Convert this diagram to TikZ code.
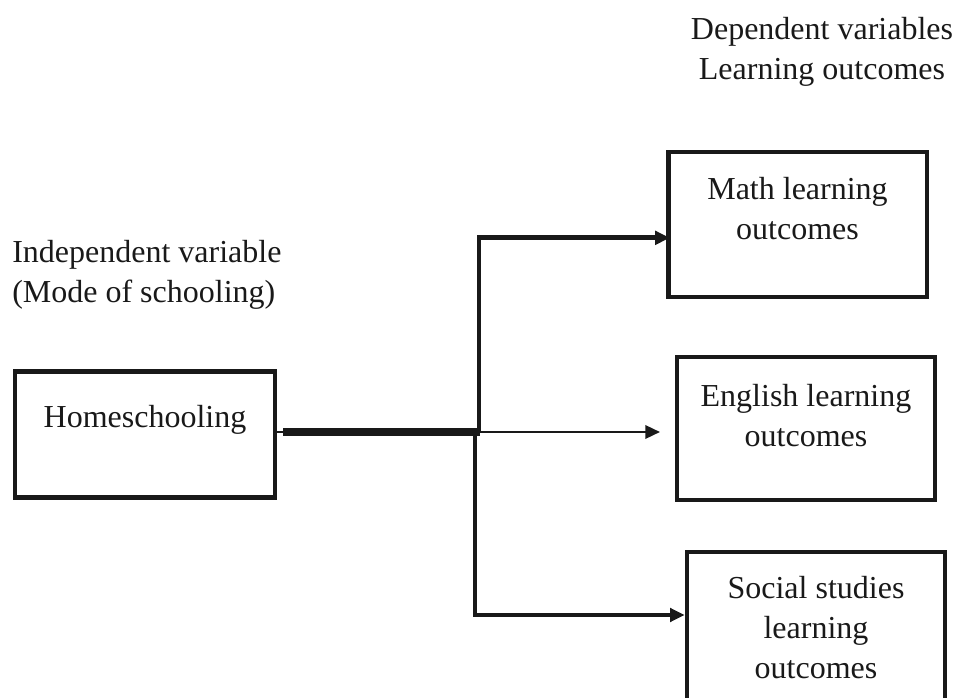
\documentclass[tikz,border=0pt]{standalone}
\usepackage{fontspec}
\setmainfont{Liberation Serif}
\usepackage{tikz}
\usetikzlibrary{arrows.meta,positioning}

\begin{document}
\begin{tikzpicture}[
    x=0.75pt, y=-0.75pt,
    every node/.style={font=\fontsize{24}{30}\selectfont, text=black!90},
    varbox/.style={
        rectangle,
        draw=black!90,
        line width=3.5pt,
        minimum width=194pt,
        align=center,
        text depth=6pt
    },
    caption/.style={inner sep=0pt},
    mainline/.style={line width=5.5pt, draw=black!90},
    arrow/.style={-{Triangle[length=11pt,width=10pt]}, draw=black!90}
]
    \useasboundingbox (0,0) rectangle (957,698);

    % === LEFT SIDE: INDEPENDENT VARIABLE ===
    \node[caption, anchor=west, align=left] (indeplabel) at (12,275) {Independent variable\\(Mode of schooling)};
    \node[varbox, minimum width=195pt, minimum height=94pt, text height=18pt, text depth=27.75pt] (home) at (145,434.5) {Homeschooling};

    % === RIGHT SIDE: DEPENDENT VARIABLES ===
    \node[caption, align=center] (deplabel) at (822,52) {Dependent variables\\Learning outcomes};
    \node[varbox, minimum height=108.75pt, text height=29.25pt] (math) at (797.5,224.5) {Math learning\\outcomes};
    \node[varbox, minimum width=193.5pt, minimum height=107.25pt, text height=33.75pt] (english) at (806,428.5) {English learning\\outcomes};
    \node[varbox, minimum width=193.5pt, minimum height=112.5pt, text height=82.5pt] (social) at (816,627) {Social studies\\learning\\outcomes};

    % Split point
    \coordinate (split) at (479,432);

    % Connectors
    \draw[line width=1.5pt, draw=black!90] (home.east |- split) -- ++(6,0) coordinate (stub);
    \draw[mainline] (stub) -- ([xshift=0.5pt]split);
    \draw[arrow, line width=3.5pt, shorten >=-3pt] (split) |- ([yshift=-10pt]math.west);
    \draw[arrow, line width=1.8pt, shorten >=11pt] (split) -- (split -| english.west);
    \draw[arrow, line width=3pt] ([xshift=-3pt]split) |- ([yshift=9pt]social.west);
\end{tikzpicture}
\end{document}
